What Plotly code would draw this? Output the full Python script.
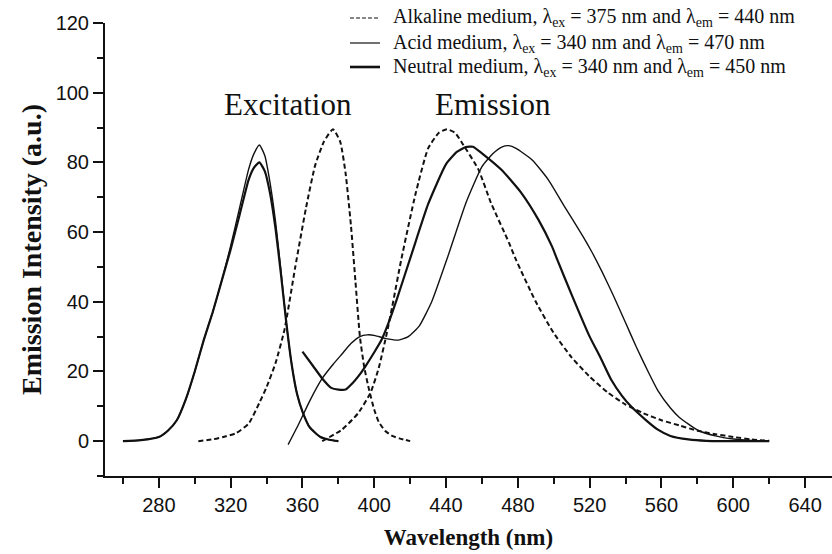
import plotly.graph_objects as go

# ---------------- data ----------------
# Excitation spectra
acid_ex_x = [260, 270, 280, 285, 290, 295, 300, 305, 310, 315, 320, 325, 330, 333, 336,
             339, 342, 345, 348, 351, 354, 357, 360, 364, 370, 375, 380]
acid_ex_y = [0, 0.3, 1.2, 3, 6, 12, 20, 29, 37, 46, 56, 67, 78, 82.5, 85,
             82, 74, 63, 49, 34, 22, 13.5, 8.5, 4, 1.2, 0.4, 0]
neut_ex_x = [260, 270, 280, 285, 290, 295, 300, 305, 310, 315, 320, 325, 330, 333, 336,
             339, 342, 345, 348, 351, 354, 357, 360, 364, 370, 375, 380]
neut_ex_y = [0, 0.3, 1.2, 3, 6, 12, 20, 29, 37, 46, 55, 65, 75, 78.5, 80,
             77.5, 71, 61, 48, 34, 22, 13.5, 8.5, 4, 1.2, 0.4, 0]
alk_ex_x = [302, 310, 316, 323, 330, 336, 340, 345, 350, 356, 362, 367, 372, 377,
            381, 384, 387, 389.5, 392, 394.5, 397, 400, 402.5, 406, 410, 414, 420]
alk_ex_y = [0, 0.5, 1.2, 2.3, 5, 11, 15.5, 22.4, 32, 50, 67, 79, 86, 89.5,
            86, 77, 62, 46, 30, 21, 15, 9, 5.5, 3, 1.5, 0.8, 0]

# Emission spectra
alk_em_x = [371, 382, 391, 398, 402.5, 407, 410, 415, 423, 430, 436, 440.5, 445, 449,
            458, 465, 475, 479, 490, 500, 510, 520, 530, 540, 550, 560, 570, 580, 590,
            600, 610, 620]
alk_em_y = [0, 3.3, 8, 14, 21, 31, 38.6, 52, 71, 84, 88.5, 89.5, 88.5, 85.5,
            78, 68.4, 57, 52, 40, 31, 24, 18.5, 14, 10.5, 8, 6, 4.5, 3, 2,
            1.2, 0.5, 0.1]
acid_em_x = [352, 358, 364, 371, 377, 382, 387, 392, 396, 400.5, 406, 413.5, 419, 425,
             432, 441, 451, 460, 466, 471, 475, 479, 488, 497, 506, 516, 521, 527, 533,
             540, 546, 553, 558, 565, 570, 580, 590, 600, 610, 620]
acid_em_y = [-1, 5, 11.5, 18, 22, 25, 28, 30, 30.5, 30.3, 29.5, 29, 30, 33,
             40, 53, 68.3, 78.8, 82.5, 84.4, 84.8, 84, 80.7, 75, 67.3, 59, 54.5, 48.5, 42,
             34, 27, 19.5, 14.5, 9.5, 6.8, 3.2, 1.5, 0.6, 0.2, 0]
neut_em_x = [360, 366, 371, 376, 380, 384, 388, 391, 395, 400, 404, 408, 412.5, 421,
             430, 440, 446, 451, 455, 460, 471, 482, 491.5, 499, 502, 510, 520, 526, 532,
             538, 543, 551, 558, 565, 575, 585, 600, 620]
neut_em_y = [25.7, 21.5, 18, 15.3, 14.8, 14.8, 16.7, 18.5, 21.4, 25.5, 29, 34, 40.6, 54,
             68, 79.5, 83, 84.4, 84.5, 82.6, 77.8, 71.2, 63.5, 55.9, 52, 42, 30, 24, 17.6,
             13, 10, 6.2, 3.3, 1.5, 0.5, 0.1, 0, 0]

x_ticks = [280, 320, 360, 400, 440, 480, 520, 560, 600, 640]
y_ticks = [0, 20, 40, 60, 80, 100, 120]

legend_labels = [
    "Alkaline medium, \u03bb<sub>ex</sub> = 375 nm and \u03bb<sub>em</sub> = 440 nm",
    "Acid medium, \u03bb<sub>ex</sub> = 340 nm and \u03bb<sub>em</sub> = 470 nm",
    "Neutral medium, \u03bb<sub>ex</sub> = 340 nm and \u03bb<sub>em</sub> = 450 nm",
]

# ---------------- figure ----------------
INK = "#111111"
styles = {
    "alk": dict(color=INK, width=2, dash="5px,3px"),
    "acid": dict(color=INK, width=1.4),
    "neut": dict(color=INK, width=2.2),
}

fig = go.Figure()
for xs, ys, key in [
    (alk_ex_x, alk_ex_y, "alk"), (alk_em_x, alk_em_y, "alk"),
    (acid_ex_x, acid_ex_y, "acid"), (acid_em_x, acid_em_y, "acid"),
    (neut_ex_x, neut_ex_y, "neut"), (neut_em_x, neut_em_y, "neut"),
]:
    fig.add_trace(go.Scatter(x=xs, y=ys, mode="lines",
                             line=dict(shape="spline", smoothing=0.5, **styles[key]),
                             showlegend=False, hoverinfo="x+y"))

W, H = 832, 554
ML, MR, MT, MB = 105, 0, 23, 78
PW, PH = W - ML - MR, H - MT - MB

def px2paper(px, py):
    return (px - ML) / PW, (H - MB - py) / PH

# legend drawn as annotations + sample lines (paper coordinates)
rows_py = [18, 43, 67]
keys = ["alk", "acid", "neut"]
for lab, py, key in zip(legend_labels, rows_py, keys):
    x0, y0 = px2paper(350, py)
    x1, _ = px2paper(380, py)
    xt, _ = px2paper(391, py)
    st = styles[key]
    fig.add_shape(type="line", xref="paper", yref="paper", x0=x0, x1=x1, y0=y0, y1=y0,
                  line=dict(color=st["color"], width=1.2 if key != "neut" else 2.6,
                            dash="4px,2px" if key == "alk" else "solid"))
    fig.add_annotation(xref="paper", yref="paper", x=xt, y=y0, text=lab, showarrow=False,
                       xanchor="left", yanchor="middle",
                       font=dict(family="Liberation Serif", size=20, color=INK))

fig.add_annotation(x=352, y=96.5, text="Excitation", showarrow=False,
                   font=dict(family="Liberation Serif", size=31, color=INK))
fig.add_annotation(x=466, y=96.5, text="Emission", showarrow=False,
                   font=dict(family="Liberation Serif", size=31, color=INK))

axis_common = dict(showgrid=False, zeroline=False, showline=True, linecolor=INK, linewidth=2,
                   ticks="outside", ticklen=10, tickwidth=1.6, tickcolor=INK,
                   tickfont=dict(family="Liberation Sans", size=20, color=INK))

fig.update_layout(
    width=W, height=H,
    margin=dict(l=ML, r=MR, t=MT, b=MB),
    paper_bgcolor="white", plot_bgcolor="white",
    xaxis=dict(range=[250, 655], tickvals=x_ticks,
               minor=dict(tickvals=[260, 300, 340, 380, 420, 460, 500, 540, 580, 620],
                          ticks="outside", ticklen=6, tickwidth=1.6, tickcolor=INK),
               title=dict(text="<b>Wavelength (nm)</b>", standoff=14,
                          font=dict(family="Liberation Serif", size=23, color=INK)),
               **axis_common),
    yaxis=dict(range=[-10, 120], tickvals=y_ticks,
               minor=dict(tickvals=[-10, 10, 30, 50, 70, 90, 110],
                          ticks="outside", ticklen=6, tickwidth=1.6, tickcolor=INK),
               title=dict(text="<b>Emission Intensity (a.u.)</b>", standoff=6,
                          font=dict(family="Liberation Serif", size=28, color=INK)),
               **axis_common),
)

fig.write_html("out.html")
